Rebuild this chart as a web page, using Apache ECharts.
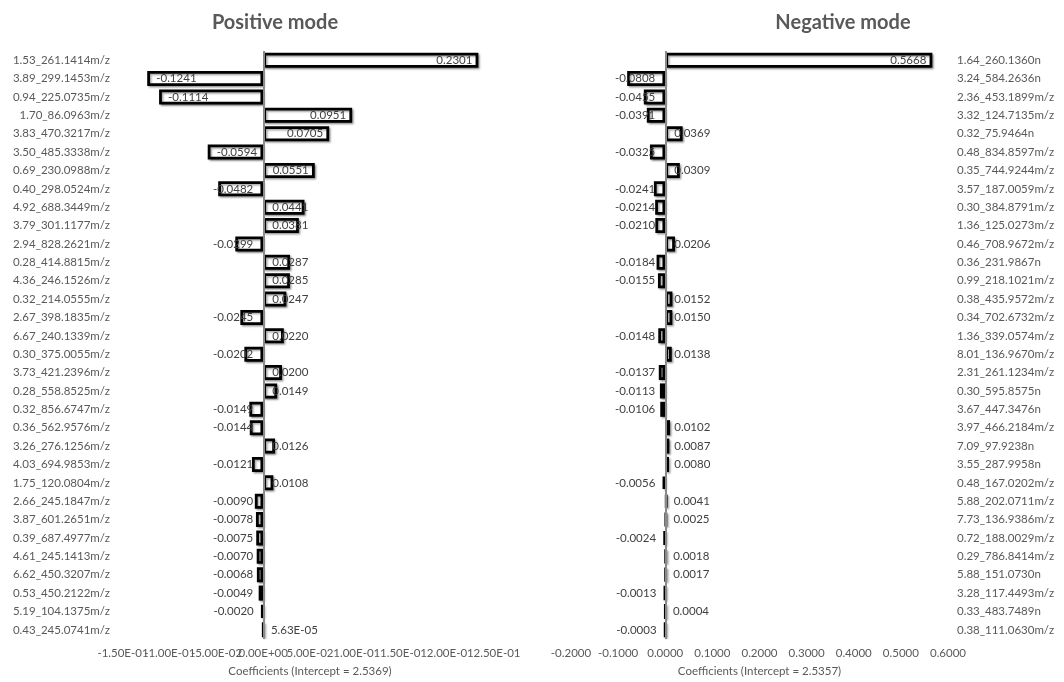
<!DOCTYPE html>
<html>
<head>
<meta charset="utf-8">
<title>PLS coefficients</title>
<script src="https://cdn.jsdelivr.net/npm/echarts@6/dist/echarts.min.js"></script>
<style>
  html, body { margin: 0; padding: 0; background: #fff; }
  #chart { width: 1064px; height: 682px; }
</style>
</head>
<body>
<div id="chart"></div>
<script>
// Positive ionisation mode: retention time_mass features and their coefficients
const posCategories = [
  '1.53_261.1414m/z', '3.89_299.1453m/z', '0.94_225.0735m/z', '1.70_86.0963m/z',
  '3.83_470.3217m/z', '3.50_485.3338m/z', '0.69_230.0988m/z', '0.40_298.0524m/z',
  '4.92_688.3449m/z', '3.79_301.1177m/z', '2.94_828.2621m/z', '0.28_414.8815m/z',
  '4.36_246.1526m/z', '0.32_214.0555m/z', '2.67_398.1835m/z', '6.67_240.1339m/z',
  '0.30_375.0055m/z', '3.73_421.2396m/z', '0.28_558.8525m/z', '0.32_856.6747m/z',
  '0.36_562.9576m/z', '3.26_276.1256m/z', '4.03_694.9853m/z', '1.75_120.0804m/z',
  '2.66_245.1847m/z', '3.87_601.2651m/z', '0.39_687.4977m/z', '4.61_245.1413m/z',
  '6.62_450.3207m/z', '0.53_450.2122m/z', '5.19_104.1375m/z', '0.43_245.0741m/z'
];
const posValues = [
  0.2301, -0.1241, -0.1114, 0.0951, 0.0705, -0.0594, 0.0551, -0.0482,
  0.0441, 0.0381, -0.0299, 0.0287, 0.0285, 0.0247, -0.0245, 0.0220,
  -0.0202, 0.0200, 0.0149, -0.0149, -0.0144, 0.0126, -0.0121, 0.0108,
  -0.0090, -0.0078, -0.0075, -0.0070, -0.0068, -0.0049, -0.0020, 5.63e-05
];
const posTickLabels = [
  '-1.50E-01', '-1.00E-01', '-5.00E-02', '0.00E+00', '5.00E-02',
  '1.00E-01', '1.50E-01', '2.00E-01', '2.50E-01'
];

// Negative ionisation mode
const negCategories = [
  '1.64_260.1360n', '3.24_584.2636n', '2.36_453.1899m/z', '3.32_124.7135m/z',
  '0.32_75.9464n', '0.48_834.8597m/z', '0.35_744.9244m/z', '3.57_187.0059m/z',
  '0.30_384.8791m/z', '1.36_125.0273m/z', '0.46_708.9672m/z', '0.36_231.9867n',
  '0.99_218.1021m/z', '0.38_435.9572m/z', '0.34_702.6732m/z', '1.36_339.0574m/z',
  '8.01_136.9670m/z', '2.31_261.1234m/z', '0.30_595.8575n', '3.67_447.3476n',
  '3.97_466.2184m/z', '7.09_97.9238n', '3.55_287.9958n', '0.48_167.0202m/z',
  '5.88_202.0711m/z', '7.73_136.9386m/z', '0.72_188.0029m/z', '0.29_786.8414m/z',
  '5.88_151.0730n', '3.28_117.4493m/z', '0.33_483.7489n', '0.38_111.0630m/z'
];
const negValues = [
  0.5668, -0.0808, -0.0455, -0.0391, 0.0369, -0.0325, 0.0309, -0.0241,
  -0.0214, -0.0210, 0.0206, -0.0184, -0.0155, 0.0152, 0.0150, -0.0148,
  0.0138, -0.0137, -0.0113, -0.0106, 0.0102, 0.0087, 0.0080, -0.0056,
  0.0041, 0.0025, -0.0024, 0.0018, 0.0017, -0.0013, 0.0004, -0.0003
];
const negTickLabels = [
  '-0.2000', '-0.1000', '0.0000', '0.1000', '0.2000',
  '0.3000', '0.4000', '0.5000', '0.6000'
];

const FONT = 'Lato, "Open Sans", "Liberation Sans", sans-serif';
const TEXT = '#595959';

// Excel-style scientific notation, e.g. 5.63E-05
function excelExp(v) {
  const parts = v.toExponential(2).split('e');
  const e = parseInt(parts[1], 10);
  const sign = e < 0 ? '-' : '+';
  return parts[0] + 'E' + sign + String(Math.abs(e)).padStart(2, '0');
}
function valueText(v) {
  return (v !== 0 && Math.abs(v) < 1e-4) ? excelExp(v) : v.toFixed(4);
}

// Long bars carry their label inside the far end; short ones beside the zero line.
function barItems(values, insideMin) {
  return values.map(function (v) {
    let label;
    if (Math.abs(v) >= insideMin) {
      label = v > 0
        ? { position: 'insideRight', distance: 6, align: 'right' }
        : { position: 'insideLeft', distance: 9, align: 'left' };
    } else {
      label = v >= 0
        ? { position: 'insideLeft', distance: 9, align: 'left' }
        : { position: 'insideRight', distance: 10, align: 'right' };
    }
    return { value: v, label: label };
  });
}

function barSeries(idx, values, insideMin) {
  return {
    type: 'bar',
    xAxisIndex: idx * 2,
    yAxisIndex: idx,
    barCategoryGap: '18%',
    data: barItems(values, insideMin),
    itemStyle: {
      color: '#ffffff',
      borderColor: '#000000',
      borderWidth: 2.8,
      shadowColor: 'rgba(0,0,0,0.35)',
      shadowBlur: 2,
      shadowOffsetX: 1.5,
      shadowOffsetY: 1.5
    },
    label: {
      show: true,
      fontFamily: FONT,
      fontSize: 11.5,
      color: '#404040',
      verticalAlign: 'middle',
      formatter: function (p) { return valueText(p.value); }
    },
    markLine: {
      silent: true,
      symbol: 'none',
      animation: false,
      label: { show: false },
      lineStyle: { color: '#8a8a8a', width: 2, type: 'solid' },
      data: [{ xAxis: 0 }]
    },
    animation: false
  };
}

// Each grid gets two bottom value axes on the same scale: one prints the even
// ticks, the other the odd ones, so neighbouring labels may touch without being dropped.
function valueAxis(idx, min, max, interval, ticks, name, parity) {
  return {
    type: 'value',
    gridIndex: idx,
    position: 'bottom',
    offset: 0,
    min: min,
    max: max,
    interval: interval,
    axisLine: { show: false, onZero: false },
    axisTick: { show: false },
    splitLine: { show: false },
    axisLabel: {
      fontFamily: FONT,
      fontSize: 11.5,
      color: TEXT,
      margin: 8,
      hideOverlap: false,
      showMinLabel: true,
      showMaxLabel: true,
      formatter: function (v, i) { return (i % 2 === parity) ? ticks[i] : ''; }
    },
    name: parity === 0 ? name : '',
    nameLocation: 'middle',
    nameGap: 26,
    nameTextStyle: { fontFamily: FONT, fontSize: 11.5, color: TEXT }
  };
}

function categoryAxis(idx, cats, side, margin) {
  return {
    type: 'category',
    gridIndex: idx,
    data: cats,
    inverse: true,
    position: side,
    axisLine: { show: false },
    axisTick: { show: false },
    splitLine: { show: false },
    axisLabel: {
      fontFamily: FONT,
      fontSize: 11.5,
      color: TEXT,
      margin: margin,
      interval: 0
    }
  };
}

const posName = 'Coefficients (Intercept = 2.5369)';
const negName = 'Coefficients (Intercept = 2.5357)';

const chart = echarts.init(document.getElementById('chart'), null, { renderer: 'canvas' });
chart.setOption({
  backgroundColor: '#ffffff',
  animation: false,
  title: [
    {
      text: 'Positive mode',
      left: 270, top: 8, textAlign: 'center',
      textStyle: { fontFamily: FONT, fontSize: 20, fontWeight: 'bold', color: TEXT }
    },
    {
      text: 'Negative mode',
      left: 838, top: 8, textAlign: 'center',
      textStyle: { fontFamily: FONT, fontSize: 20, fontWeight: 'bold', color: TEXT }
    }
  ],
  grid: [
    { left: 123, width: 374, top: 51, height: 590 },
    { left: 571, width: 377, top: 51, height: 590 }
  ],
  xAxis: [
    valueAxis(0, -0.15, 0.25, 0.05, posTickLabels, posName, 0),
    valueAxis(0, -0.15, 0.25, 0.05, posTickLabels, posName, 1),
    valueAxis(1, -0.2, 0.6, 0.1, negTickLabels, negName, 0),
    valueAxis(1, -0.2, 0.6, 0.1, negTickLabels, negName, 1)
  ],
  yAxis: [
    categoryAxis(0, posCategories, 'left', 13),
    categoryAxis(1, negCategories, 'right', 9)
  ],
  series: [
    barSeries(0, posValues, 0.05),
    barSeries(1, negValues, 0.1)
  ]
});
</script>
</body>
</html>
